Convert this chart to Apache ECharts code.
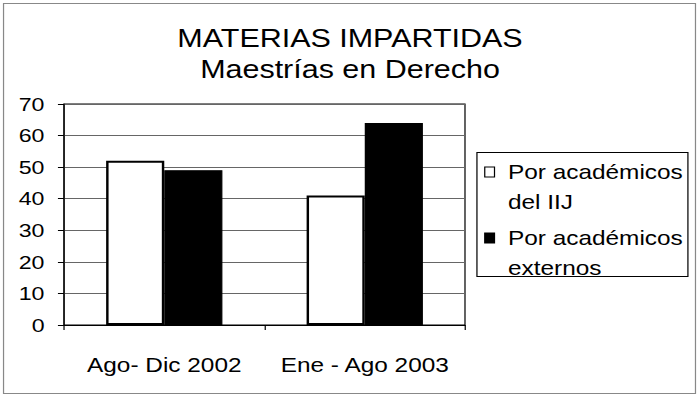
<!DOCTYPE html>
<html>
<head>
<meta charset="utf-8">
<script src="https://cdn.jsdelivr.net/npm/echarts@6/dist/echarts.min.js"></script>
<style>
html,body{margin:0;padding:0;background:#fff;overflow:hidden;}
#c{width:574px;height:398px;transform:scaleX(1.2195);transform-origin:0 0;}
</style>
</head>
<body>
<div id="c"></div>
<script>
var categories = ['Ago- Dic 2002', 'Ene - Ago 2003'];
var seriesNames = ['Por académicos\ndel IIJ', 'Por académicos\nexternos'];
var iijValues = [52, 41];
var externosValues = [49, 64];
var yTicks = [0, 10, 20, 30, 40, 50, 60, 70];

var FONT = '"Liberation Sans", Arial, sans-serif';
var iconPath = 'path://M0,0M0,40M0,0L8,0L8,10L0,10Z';

var chart = echarts.init(document.getElementById('c'), null, {renderer: 'svg'});
chart.setOption({
  animation: false,
  backgroundColor: '#fff',
  title: {
    text: 'MATERIAS IMPARTIDAS\nMaestrías en Derecho',
    left: 'center',
    top: 23,
    padding: 0,
    textStyle: {fontFamily: FONT, fontSize: 25, fontWeight: 'normal', color: '#000', lineHeight: 31}
  },
  legend: {
    orient: 'vertical',
    left: 397,
    top: 157,
    padding: 0,
    itemGap: 6,
    itemWidth: 8,
    itemHeight: 40,
    icon: iconPath,
    itemStyle: {borderWidth: 1, borderColor: '#000'},
    textStyle: {fontFamily: FONT, fontSize: 20, color: '#000', lineHeight: 30, padding: [0, 0, 0, 6]},
    data: seriesNames
  },
  grid: {
    left: 52.5, right: 192.7, top: 104, bottom: 73,
    show: true, borderColor: '#000', borderWidth: 1, backgroundColor: 'transparent'
  },
  xAxis: {
    type: 'category',
    data: categories,
    axisLine: {lineStyle: {color: '#000', width: 1}},
    axisTick: {show: true, interval: 0, length: 5, alignWithLabel: false, lineStyle: {color: '#000'}},
    axisLabel: {interval: 0, fontFamily: FONT, fontSize: 20, color: '#000', margin: 30}
  },
  yAxis: {
    type: 'value',
    min: yTicks[0],
    max: yTicks[yTicks.length - 1],
    interval: 10,
    axisLine: {show: true, lineStyle: {color: '#000', width: 1}},
    axisTick: {show: true, length: 5, lineStyle: {color: '#000'}},
    axisLabel: {fontFamily: FONT, fontSize: 19, color: '#000', margin: 16},
    splitLine: {show: true, lineStyle: {color: '#666', width: 1}}
  },
  series: [
    {
      name: seriesNames[0],
      type: 'bar',
      data: iijValues,
      barGap: '0%',
      barCategoryGap: '42%',
      itemStyle: {color: '#fff', borderColor: '#000', borderWidth: 2}
    },
    {
      name: seriesNames[1],
      type: 'bar',
      data: externosValues,
      barGap: '0%',
      barCategoryGap: '42%',
      itemStyle: {color: '#000', borderColor: '#000', borderWidth: 1}
    }
  ],
  graphic: [
    {type: 'rect', shape: {x: 2.9, y: 3.5, width: 567.4, height: 390}, style: {fill: 'none', stroke: '#888', lineWidth: 1}, silent: true},
    {type: 'rect', shape: {x: 391.1, y: 152.5, width: 173, height: 124}, style: {fill: 'none', stroke: '#000', lineWidth: 1}, silent: true}
  ]
});
</script>
</body>
</html>
